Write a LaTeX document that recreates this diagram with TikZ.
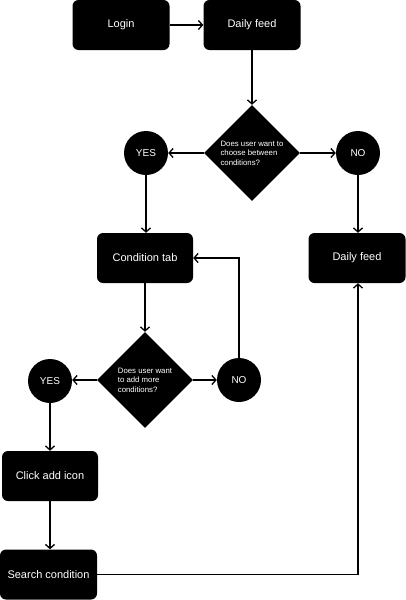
\documentclass[tikz,border=0pt]{standalone}
\usepackage{fontspec}
\setmainfont{Liberation Sans}
\usetikzlibrary{shapes.geometric,arrows.meta}

\tikzset{
	box/.style={shape=rectangle, rounded corners=6pt, fill=black, text=white,
		minimum width=97pt, minimum height=50pt, font=\fontsize{11}{13}\selectfont},
	answer/.style={shape=circle, fill=black, text=white, minimum size=44pt,
		inner sep=0pt, font=\fontsize{10}{12}\selectfont},
	question/.style={shape=diamond, fill=black, text=white, inner sep=0pt,
		minimum width=96pt, minimum height=96pt, align=left,
		font=\fontsize{7.8}{9.5}\selectfont},
	arr/.style={-{Straight Barb[length=4pt,width=9pt]}, line width=1.3pt},
}

\begin{document}
\begin{tikzpicture}[x=1pt, y=-1pt]
	
	\useasboundingbox (0, 0) rectangle (406, 600);
	
	\node[box] (login) at (121, 25)        {Login};
	\node[box] (feed) at (252, 25)         {Daily feed};
	\node[question] (ask) at (252, 153)    {Does user want to\\choose between\\conditions?};
	\node[answer] (yes) at (146, 153)      {YES};
	\node[answer] (no) at (358, 153)       {NO};
	\node[box] (feedb) at (357, 258)       {Daily feed};
	\node[box, minimum width=96pt] (tab) at (145, 258) {Condition tab};
	\node[question] (askb) at (145, 380)   {Does user want\\to add more\\conditions?};
	\node[answer] (yesb) at (50, 381)      {YES};
	\node[answer] (nob) at (239, 380)      {NO};
	\node[box, minimum width=96pt] (click) at (50, 476) {Click add icon};
	\node[box] (search) at (48.5, 574.5)   {Search condition};
	
	\draw[arr] (login) -- (feed);
	\draw[arr] (feed) -- (ask);
	\draw[arr] (ask) -- (yes);
	\draw[arr] (ask) -- (no);
	\draw[arr] (no) -- (no |- feedb.north);
	\draw[arr] (yes) -- (yes |- tab.north);
	\draw[arr] (tab.south -| askb) -- (askb);
	\draw[arr] (askb) -- (askb -| yesb.east);
	\draw[arr] (askb) -- (nob);
	\draw[arr] (nob) |- (tab.east);
	\draw[arr] (yesb) -- (yesb |- click.north);
	\draw[arr] (click) -- (click |- search.north);
	\draw[arr] (search.east) -| (no |- feedb.south);
	
\end{tikzpicture}
\end{document}
